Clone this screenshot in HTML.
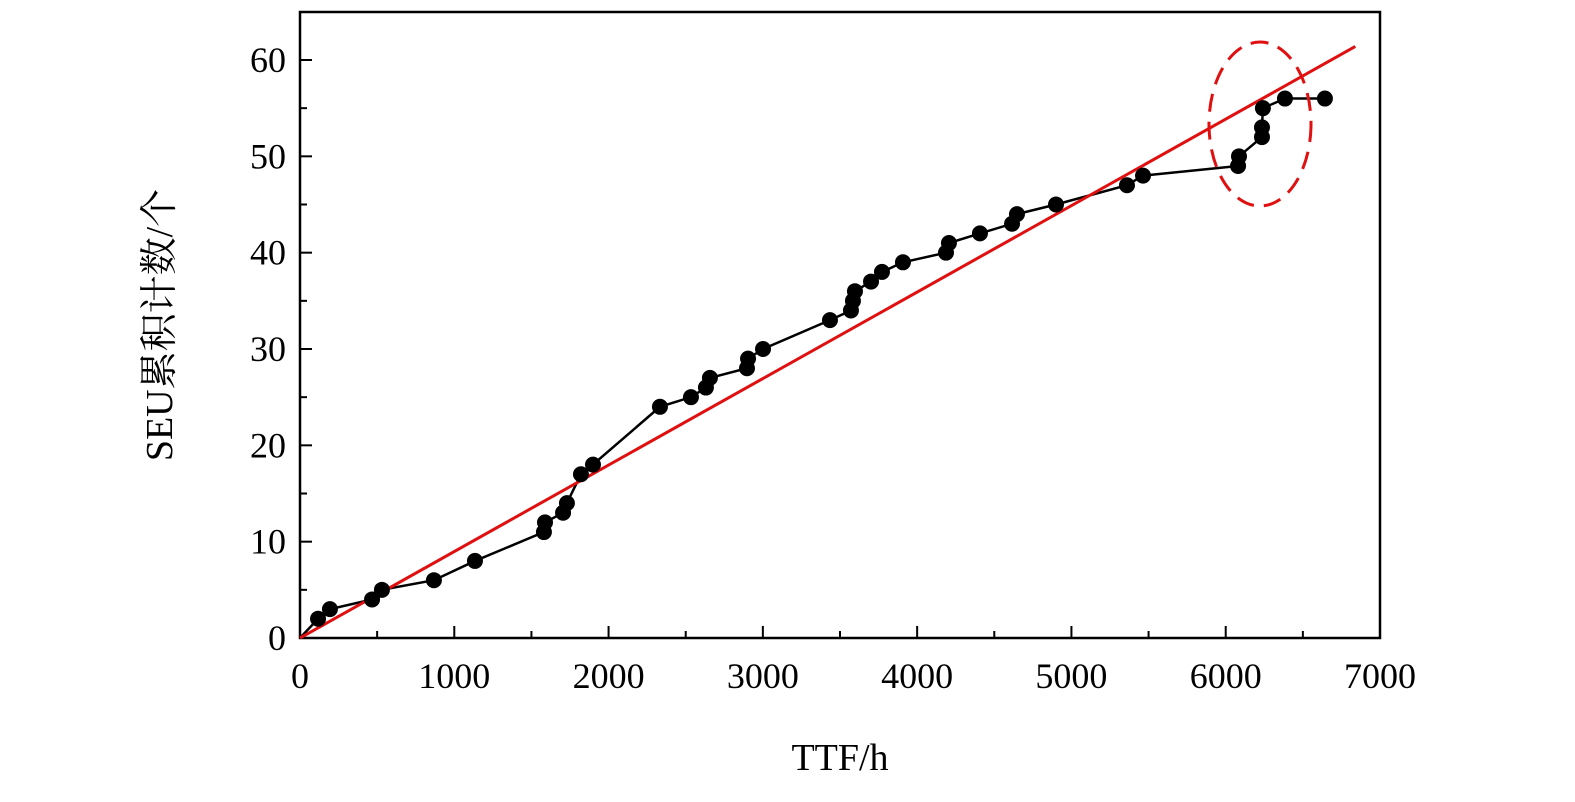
<!DOCTYPE html>
<html><head><meta charset="utf-8"><style>
body{margin:0;background:#fff;}
svg text{font-family:"Liberation Serif","Noto Serif CJK SC",serif;fill:#000;}
</style></head><body>
<svg width="1575" height="797" viewBox="0 0 1575 797">
<g id="plot"></g>
</svg>
<script>
const xTicks=[0,1000,2000,3000,4000,5000,6000,7000];
const yTicks=[0,10,20,30,40,50,60];
const ttf=[0,117,194,467,531,868,1134,1581,1588,1705,1730,1821,1899,2333,2534,2631,2657,2897,2904,3001,3435,3571,3584,3597,3701,3772,3908,4187,4206,4407,4615,4647,4900,5360,5464,6080,6086,6235,6235,6241,6384,6643];
const seu=[0,2,3,4,5,6,8,11,12,13,14,17,18,24,25,26,27,28,29,30,33,34,35,36,37,38,39,40,41,42,43,44,45,47,48,49,50,52,53,55,56,56];
const fitX=[0,6840];
const fitSlope=[0.008977];
const NS='http://www.w3.org/2000/svg';
const X0=300,X1=1380,Y0=638,Y1=12;
const xs=v=>X0+v*(1080/7000);
const ys=v=>Y0-v*(578/60);
const g=document.getElementById('plot');
function mk(t,a,p){const e=document.createElementNS(NS,t);for(const k in a)e.setAttribute(k,a[k]);(p||g).appendChild(e);return e;}
// frame
const fr=mk('rect',{x:X0,y:Y1,width:X1-X0,height:Y0-Y1,fill:'none',stroke:'#000','stroke-width':2.5});


// x ticks
for(let i=0;i<xTicks.length;i++){const v=xTicks[i];const x=xs(v);
 const t=mk('line',{x1:x,y1:Y0,x2:x,y2:Y0-12,stroke:'#000','stroke-width':2});
 
 
 if(i<xTicks.length-1){const m=xs(v+500);mk('line',{x1:m,y1:Y0,x2:m,y2:Y0-7,stroke:'#000','stroke-width':2});}
 const l=mk('text',{x:x,y:Y0+50,'font-size':36,'text-anchor':'middle'});l.textContent=v;
 
 
}
for(let i=0;i<yTicks.length;i++){const v=yTicks[i];const y=ys(v);
 const t=mk('line',{x1:X0,y1:y,x2:X0+12,y2:y,stroke:'#000','stroke-width':2});
 
 
 const m=ys(v+5);if(m>Y1)mk('line',{x1:X0,y1:m,x2:X0+7,y2:m,stroke:'#000','stroke-width':2});
 const l=mk('text',{x:X0-14,y:y+12,'font-size':36,'text-anchor':'end'});l.textContent=v;
 
 
}
const xt=mk('text',{x:840,y:770,'font-size':38,'text-anchor':'middle'});xt.textContent='TTF/h';


const yt=mk('text',{x:0,y:0,'font-size':38,'text-anchor':'middle',transform:'translate(172,325) rotate(-90)'});yt.textContent='SEU累积计数/个';


// data line
const pts=ttf.map((v,i)=>xs(v)+','+ys(seu[i])).join(' ');
const pl=mk('polyline',{points:pts,fill:'none',stroke:'#000','stroke-width':2.5});


// fit line
const fl=mk('line',{x1:xs(fitX[0]),y1:ys(fitX[0]*fitSlope[0]),x2:xs(fitX[1]),y2:ys(fitX[1]*fitSlope[0]),stroke:'#e01010','stroke-width':3});


for(let i=1;i<ttf.length;i++){
 const c=mk('circle',{cx:xs(ttf[i]),cy:ys(seu[i]),r:8,fill:'#000'});
 
 
}
const el=mk('ellipse',{cx:1260,cy:124,rx:51,ry:82,fill:'none',stroke:'#e01010','stroke-width':3,'stroke-dasharray':'18,10'});


</script>
</body></html>
